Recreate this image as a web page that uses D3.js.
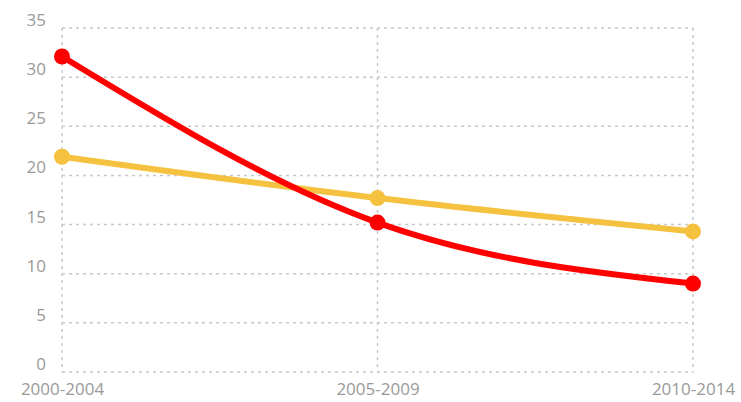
<!DOCTYPE html>
<html>
<head>
<meta charset="utf-8">
<script src="https://cdn.jsdelivr.net/npm/d3@7"></script>
<style>
  body { margin: 0; background: #fff; }
  .axis text { font-family: "Open Sans", sans-serif; font-size: 17px; fill: #9a9a9a; }
  .grid line { stroke: #c8c8c8; stroke-width: 1.5; stroke-dasharray: 3,4; }
</style>
</head>
<body>
<div id="chart"></div>
<script>
// Data
const periods = ['2000-2004', '2005-2009', '2010-2014'];
const redValues = [32.1, 15.2, 9.0];
const yellowValues = [21.9, 17.7, 14.3];
const yTicks = [0, 5, 10, 15, 20, 25, 30, 35];

const width = 741;
const height = 402;
const margin = { top: 28, right: 48, bottom: 30, left: 62 };
const chartWidth = width - margin.left - margin.right;
const chartHeight = height - margin.top - margin.bottom;

const svg = d3.select('#chart')
    .append('svg')
    .attr('width', width)
    .attr('height', height);

const g = svg.append('g')
    .attr('transform', `translate(${margin.left},${margin.top})`);

const xScale = d3.scalePoint()
    .domain(periods)
    .range([0, chartWidth]);

const yScale = d3.scaleLinear()
    .domain([0, 35])
    .range([chartHeight, 0]);

// grid
const grid = g.append('g').classed('grid', true);
grid.selectAll('.h')
    .data(yTicks)
    .enter().append('line')
    .attr('x1', 0)
    .attr('x2', chartWidth)
    .attr('y1', d => yScale(d))
    .attr('y2', d => yScale(d));
grid.selectAll('.v')
    .data(periods)
    .enter().append('line')
    .attr('x1', d => xScale(d))
    .attr('x2', d => xScale(d))
    .attr('y1', 0)
    .attr('y2', chartHeight);

// axes (labels only, grid draws the lines)
const yAxis = d3.axisLeft(yScale).tickValues(yTicks).tickSize(0).tickPadding(16);
g.append('g')
    .classed('axis', true)
    .call(yAxis)
    .call(s => s.select('.domain').remove())
    .selectAll('text')
    .attr('dy', '-0.15em');

const xAxis = d3.axisBottom(xScale).tickSize(0).tickPadding(11);
g.append('g')
    .classed('axis', true)
    .attr('transform', `translate(0,${chartHeight})`)
    .call(xAxis)
    .call(s => s.select('.domain').remove());

// lines
const series = [
    { name: 'yellow', values: yellowValues, color: '#f4c23f' },
    { name: 'red', values: redValues, color: '#ff0000' }
];

const line = d3.line()
    .x((d, i) => xScale(periods[i]))
    .y(d => yScale(d))
    .curve(d3.curveMonotoneX);

series.forEach(s => {
    g.append('path')
        .datum(s.values)
        .attr('fill', 'none')
        .attr('stroke', s.color)
        .attr('stroke-width', 6)
        .attr('stroke-linejoin', 'round')
        .attr('d', line);
    g.selectAll('.dot-' + s.name)
        .data(s.values)
        .enter().append('circle')
        .attr('cx', (d, i) => xScale(periods[i]))
        .attr('cy', d => yScale(d))
        .attr('r', 8)
        .attr('fill', s.color);
});
</script>
</body>
</html>
